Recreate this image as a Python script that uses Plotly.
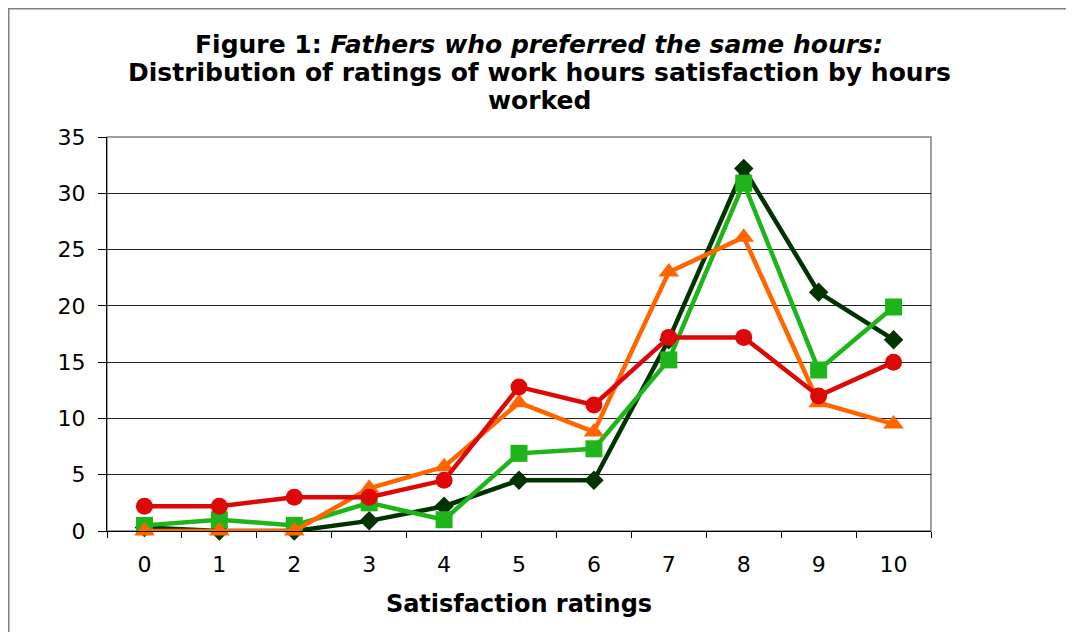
import plotly.graph_objects as go

ratings = [str(i) for i in range(11)]
y_ticks = [0, 5, 10, 15, 20, 25, 30, 35]

series_a = [0.3, 0.0, 0.0, 0.9, 2.2, 4.5, 4.5, 17.0, 32.2, 21.2, 17.0]   # dark green diamonds
series_b = [0.5, 1.0, 0.5, 2.5, 1.0, 6.9, 7.3, 15.2, 30.9, 14.3, 19.9]   # green squares
series_c = [0.0, 0.0, 0.0, 3.8, 5.7, 11.4, 8.8, 23.0, 26.1, 11.4, 9.5]   # orange triangles
series_d = [2.2, 2.2, 3.0, 3.0, 4.5, 12.8, 11.2, 17.2, 17.2, 12.0, 15.0] # red circles

names = ["Series 1", "Series 2", "Series 3", "Series 4"]
colors = ["#003300", "#1fb51a", "#ff6600", "#dd0808"]
symbols = ["diamond", "square", "triangle-up", "circle"]
sizes = [15, 17, 18, 17]

title_lines = [
    "<b>Figure 1: <i>Fathers who preferred the same hours:</i></b>",
    "<b>Distribution of ratings of work hours satisfaction by hours</b>",
    "<b>worked</b>",
]

fig = go.Figure()
for name, vals, col, sym, sz in zip(names, [series_a, series_b, series_c, series_d], colors, symbols, sizes):
    fig.add_trace(go.Scatter(
        x=ratings, y=vals, name=name, mode="lines+markers",
        line=dict(color=col, width=4.5),
        marker=dict(symbol=sym, size=sz, color=col),
        cliponaxis=False,
    ))

# page has an 8px body margin; figure coords = page coords - 8
W, H = 1066, 624
L, R, T, B = 99, 923, 129, 523
pw, ph = R - L, B - T

def px_x(x):
    return (x - L) / pw

def px_y(y):
    return (B - y) / ph

annotations = []
for line, yc in zip(title_lines, [37, 65, 93]):
    annotations.append(dict(
        text=line, xref="paper", yref="paper", x=px_x(531), y=px_y(yc),
        xanchor="center", yanchor="middle", showarrow=False,
        font=dict(size=25, family="DejaVu Sans", color="black"),
    ))

fig.update_layout(
    width=W, height=H,
    margin=dict(l=L, r=W - R, t=T, b=H - B),
    paper_bgcolor="white", plot_bgcolor="white",
    showlegend=False,
    font=dict(family="DejaVu Sans", color="black"),
    annotations=annotations,
    xaxis=dict(
        type="category", range=[-0.5, 10.5], tickson="boundaries",
        ticks="outside", ticklen=6, tickcolor="black",
        showline=True, linecolor="black", linewidth=1,
        showgrid=False, zeroline=False,
        tickfont=dict(size=22), ticklabelstandoff=14,
        title=dict(text="<b>Satisfaction ratings</b>", font=dict(size=24), standoff=18),
    ),
    yaxis=dict(
        range=[0, 35], tickvals=y_ticks,
        ticks="outside", ticklen=8, tickcolor="black",
        showline=True, linecolor="black", linewidth=1,
        showgrid=True, gridcolor="#222222", gridwidth=1, zeroline=False,
        tickfont=dict(size=22), ticklabelstandoff=8,
    ),
    shapes=[
        dict(type="rect", xref="paper", yref="paper", x0=0, x1=1, y0=0, y1=1,
             line=dict(color="#808080", width=1.5), layer="below"),
        dict(type="rect", xref="paper", yref="paper",
             x0=px_x(0.5), x1=px_x(W + 20), y0=px_y(H + 20), y1=px_y(0.5),
             line=dict(color="#808080", width=2), layer="below"),
    ],
)

fig.write_html("out.html")
